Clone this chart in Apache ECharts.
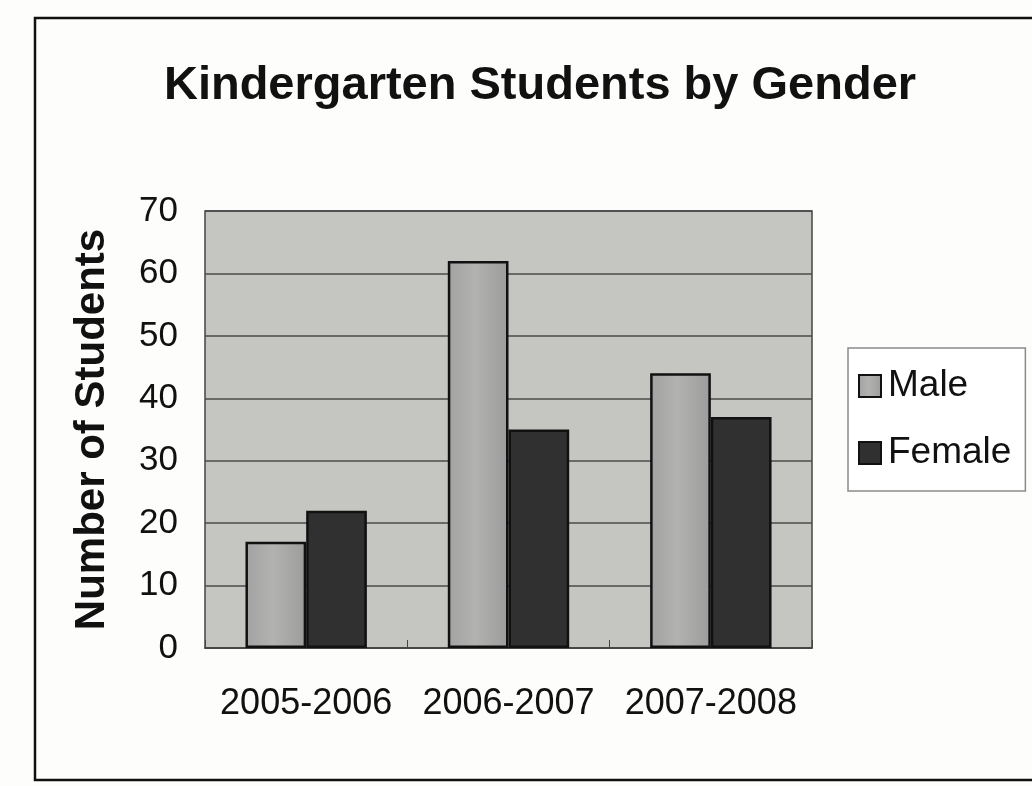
<!DOCTYPE html>
<html>
<head>
<meta charset="utf-8">
<title>Kindergarten Students by Gender</title>
<script src="https://cdn.jsdelivr.net/npm/echarts@6/dist/echarts.min.js"></script>
<style>
  html, body { margin: 0; padding: 0; background: #fdfdfc; }
  #chart { width: 1032px; height: 786px; }
</style>
</head>
<body>
<div id="chart"></div>
<script>
// School years shown along the x axis
const years = ['2005-2006', '2006-2007', '2007-2008'];
// Enrolment counts per year
const male = [17, 62, 44];
const female = [22, 35, 37];
// Value axis range
const yMin = 0, yMax = 70, yStep = 10;

const sans = '"Liberation Sans", Arial, sans-serif';

const chart = echarts.init(document.getElementById('chart'), null, { renderer: 'canvas' });

chart.setOption({
  backgroundColor: '#fdfdfc',
  animation: false,
  graphic: [{
    type: 'rect',
    shape: { x: 35, y: 18, width: 1020, height: 762 },
    style: { fill: 'none', stroke: '#111', lineWidth: 2.5 },
    silent: true
  }],
  title: {
    text: 'Kindergarten Students by Gender',
    left: 535,
    textAlign: 'center',
    top: 58,
    textStyle: { fontFamily: sans, fontWeight: 'bold', fontSize: 47, color: '#111' }
  },
  legend: {
    orient: 'vertical',
    left: 848,
    top: 348,
    padding: [18, 14, 18, 10],
    itemGap: 27,
    itemWidth: 22,
    itemHeight: 22,
    icon: 'rect',
    backgroundColor: '#ffffff',
    borderColor: '#8a8a8a',
    borderWidth: 1.5,
    borderRadius: 0,
    textStyle: { fontFamily: sans, fontSize: 37, color: '#111', lineHeight: 40, padding: [0, 0, 0, 2] },
    data: ['Male', 'Female']
  },
  grid: {
    left: 205, right: 220, top: 211, bottom: 138,
    show: true,
    backgroundColor: '#c5c5c1',
    borderColor: '#444',
    borderWidth: 1.5
  },
  xAxis: {
    type: 'category',
    data: years,
    axisLine: { show: true, lineStyle: { color: '#444', width: 1.5 } },
    axisTick: { show: true, inside: true, length: 8, lineStyle: { color: '#444' } },
    axisLabel: { fontFamily: sans, fontSize: 36, color: '#111', margin: 38, interval: 0 }
  },
  yAxis: {
    type: 'value',
    min: yMin,
    max: yMax,
    interval: yStep,
    name: 'Number of Students',
    nameLocation: 'middle',
    nameGap: 92,
    nameTextStyle: { fontFamily: sans, fontWeight: 'bold', fontSize: 42, color: '#111' },
    axisLine: { show: false },
    axisTick: { show: false },
    axisLabel: { fontFamily: sans, fontSize: 35, color: '#111', margin: 27 },
    splitLine: { show: true, lineStyle: { color: '#4a4a4a', width: 1.5 } }
  },
  series: [
    {
      name: 'Male',
      type: 'bar',
      data: male,
      barGap: '0%',
      barCategoryGap: '40%',
      itemStyle: {
        color: new echarts.graphic.LinearGradient(0, 0, 1, 0, [
          { offset: 0, color: '#a2a2a2' },
          { offset: 0.45, color: '#b2b2b0' },
          { offset: 1, color: '#9c9c9c' }
        ]),
        borderColor: '#111',
        borderWidth: 2.5
      }
    },
    {
      name: 'Female',
      type: 'bar',
      data: female,
      itemStyle: { color: '#303030', borderColor: '#111', borderWidth: 2.5 }
    }
  ]
});
</script>
</body>
</html>
